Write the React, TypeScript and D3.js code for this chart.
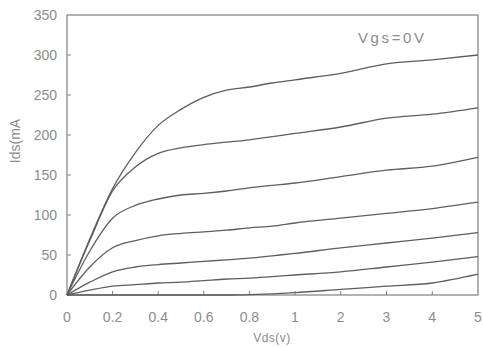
import React from "react";
import * as d3 from "d3";

const vds = [0, 0.1, 0.2, 0.3, 0.4, 0.5, 0.6, 0.7, 0.8, 0.9, 1, 2, 3, 4, 5];
const curve1 = [0, 70, 133, 178, 212, 232, 247, 256, 260, 265, 269, 277, 289, 294, 300];
const curve2 = [0, 68, 130, 160, 177, 184, 188, 191, 194, 198, 202, 210, 221, 226, 234];
const curve3 = [0, 55, 96, 112, 120, 125, 127, 130, 134, 137, 140, 148, 156, 161, 172];
const curve4 = [0, 35, 59, 68, 74, 77, 79, 81, 84, 86, 90, 96, 102, 108, 116];
const curve5 = [0, 16, 29, 35, 38, 40, 42, 44, 46, 49, 52, 59, 65, 71, 78];
const curve6 = [0, 6, 11, 13, 15, 16, 18, 20, 21, 23, 25, 29, 35, 41, 48];
const curve7 = [0, 0, 0, 0, 0, 0, 0, 0, 0.5, 1.5, 3, 7, 11, 15, 26];
const series = [curve1, curve2, curve3, curve4, curve5, curve6, curve7];

const xTicks = [0, 0.2, 0.4, 0.6, 0.8, 1, 2, 3, 4, 5];
const xTickLabels = ["0", "0.2", "0.4", "0.6", "0.8", "1", "2", "3", "4", "5"];
const yTicks = [0, 50, 100, 150, 200, 250, 300, 350];

export default function App() {
  const W = 483, H = 347;
  const left = 67, right = 478, top = 15, bottom = 295;
  const x = d3.scaleLinear().domain([0, 1, 5]).range([left, 295, right]);
  const y = d3.scaleLinear().domain([0, 350]).range([bottom, top]);
  const line = d3
    .line<number>()
    .x((_, i) => x(vds[i]))
    .y((d) => y(d))
    .curve(d3.curveMonotoneX);
  const font = "'Liberation Sans', Arial, sans-serif";
  const textColor = "#8c8c8c";
  const axisColor = "#808080";
  return (
    <svg
      width={W}
      height={H}
      style={{ position: "absolute", left: 0, top: 0, background: "#fff" }}
      fontFamily={font}
    >
      <rect x={0} y={0} width={W} height={H} fill="#fff" />
      <rect x={left} y={top} width={right - left} height={bottom - top} fill="none" stroke={axisColor} strokeWidth={1.2} />
      {yTicks.map((t) => (
        <g key={"y" + t}>
          {t > 0 && t < 350 && (
            <line x1={left} x2={left + 4} y1={y(t)} y2={y(t)} stroke={axisColor} strokeWidth={1} />
          )}
          <text x={57} y={y(t)} dy="0.36em" textAnchor="end" fontSize={14} fill={textColor}>
            {t}
          </text>
        </g>
      ))}
      {xTicks.map((t, i) => (
        <g key={"x" + t}>
          {t > 0 && t < 5 && (
            <line x1={x(t)} x2={x(t)} y1={bottom} y2={bottom - 4} stroke={axisColor} strokeWidth={1} />
          )}
          <text x={x(t)} y={322} textAnchor="middle" fontSize={14} fill={textColor}>
            {xTickLabels[i]}
          </text>
        </g>
      ))}
      {series.map((s, i) => (
        <path key={"s" + i} d={line(s) || ""} fill="none" stroke="#5e5e5e" strokeWidth={1.3} />
      ))}
      <text x={272} y={342} textAnchor="middle" fontSize={12} fill={textColor} letterSpacing={0.5}>
        Vds(v)
      </text>
      <text
        transform="translate(20,141) rotate(-90)"
        textAnchor="middle"
        fontSize={14}
        fill={textColor}
      >
        Ids(mA
      </text>
      <text x={358} y={43} fontSize={15} fill={textColor} letterSpacing={2.6}>
        Vgs=0V
      </text>
    </svg>
  );
}
